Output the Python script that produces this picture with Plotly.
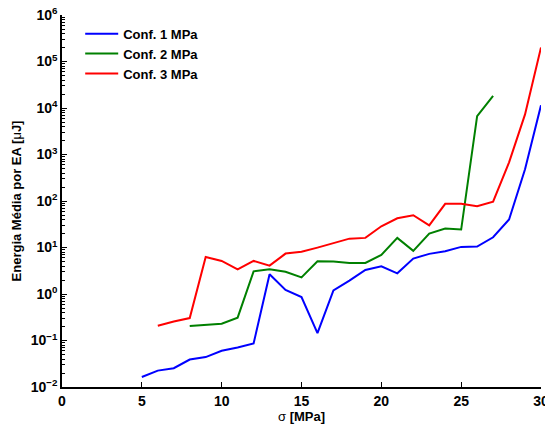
import plotly.graph_objects as go

x1 = list(range(5, 31))
y1 = [0.0164, 0.0225, 0.0253, 0.039, 0.044, 0.060, 0.0706, 0.086, 2.65, 1.22,
      0.86, 0.144, 1.2, 1.94, 3.29, 3.94, 2.78, 5.77, 7.3, 8.3, 10.3, 10.5,
      16.6, 40, 480, 11400]
x2 = list(range(8, 28))
y2 = [0.204, 0.215, 0.229, 0.31, 3.07, 3.39, 3.0, 2.28, 5.04, 4.97, 4.66, 4.66,
      6.9, 16.1, 8.45, 19.9, 25.5, 24.3, 6700, 18300]
x3 = list(range(6, 31))
y3 = [0.207, 0.257, 0.304, 6.27, 5.14, 3.39, 5.14, 4.07, 7.4, 8.1, 9.95, 12.3,
      15.5, 16.1, 28.6, 42.5, 49.5, 30, 87, 87, 77, 97, 680, 7300, 200000]

names = ["Conf. 1 MPa", "Conf. 2 MPa", "Conf. 3 MPa"]
colors = ["#0000FF", "#008000", "#FF0000"]

xticks = [0, 5, 10, 15, 20, 25, 30]
yexp = [-2, -1, 0, 1, 2, 3, 4, 5, 6]
ytickvals = [10.0 ** e for e in yexp]
yticktext = ["10<sup>%s</sup>" % (str(e).replace("-", "\u2212")) for e in yexp]
yminor = [k * 10.0 ** e for e in yexp[:-1] for k in range(2, 10)]

fig = go.Figure()
for xs, ys, n, c in zip([x1, x2, x3], [y1, y2, y3], names, colors):
    fig.add_trace(go.Scatter(x=xs, y=ys, mode="lines", name=n,
                             line=dict(color=c, width=2)))

font_family = "Liberation Sans, Arial, sans-serif"
fig.update_layout(
    width=545, height=419,
    margin=dict(l=54, r=12, t=7, b=40),
    paper_bgcolor="white", plot_bgcolor="white",
    font=dict(family=font_family, size=13, color="black"),
    showlegend=True,
    legend=dict(x=0.038, y=0.99, xanchor="left", yanchor="top",
                bgcolor="rgba(0,0,0,0)", borderwidth=0,
                font=dict(family=font_family, size=13, color="black", weight="bold"),
                tracegroupgap=0, itemwidth=33),
    xaxis=dict(range=[0, 30], tickvals=xticks, ticks="inside", ticklen=5,
               tickwidth=1, tickcolor="black", automargin=False,
               ticklabeloverflow="allow",
               showline=True, linecolor="black", linewidth=1.5, showgrid=False,
               zeroline=False, mirror=False,
               tickfont=dict(family=font_family, size=14, weight="bold"),
               title=dict(text="σ <b>[MPa]</b>", standoff=0,
                          font=dict(family=font_family, size=13))),
    yaxis=dict(type="log", range=[-2, 6], tickvals=ytickvals, ticktext=yticktext,
               ticks="inside", ticklen=5, tickwidth=1, tickcolor="black",
               automargin=False, ticklabeloverflow="allow",
               minor=dict(ticks="inside", ticklen=3, tickcolor="black",
                          tickmode="array", tickvals=yminor),
               showline=True, linecolor="black", linewidth=1.5, showgrid=False,
               zeroline=False, mirror=False,
               tickfont=dict(family=font_family, size=14, weight="bold"),
               title=dict(text="<b>Energia Média por EA [</b>μ<b>J]</b>", standoff=6,
                          font=dict(family=font_family, size=13))),
)

fig.write_html("out.html")
